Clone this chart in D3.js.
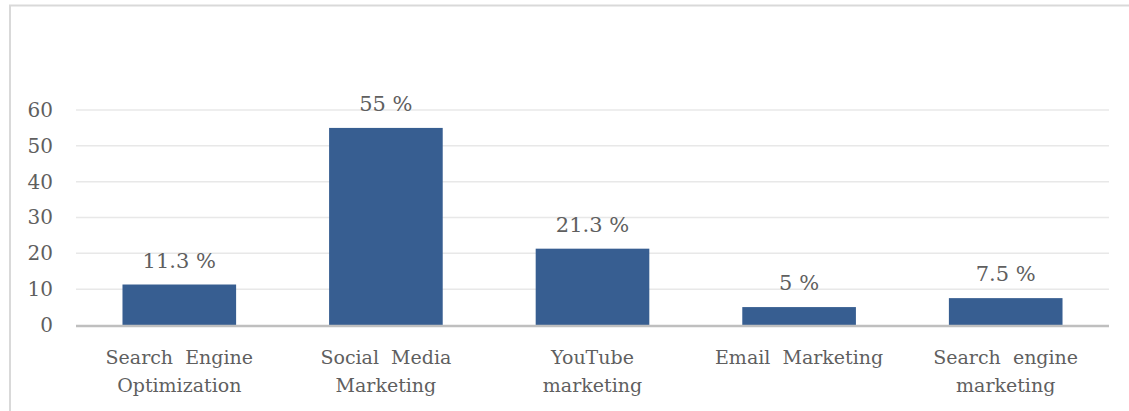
<!DOCTYPE html>
<html>
<head>
<meta charset="utf-8">
<script src="https://cdn.jsdelivr.net/npm/d3@7"></script>
<style>
  html, body { margin: 0; padding: 0; background: #fff; }
  svg { display: block; }
  text { font-family: "DejaVu Serif", serif; fill: #5f5f5f; }
</style>
</head>
<body>
<svg id="chart" width="1129" height="411"></svg>
<script>
// Marketing channel shares (percent)
const categories = [
  ["Search  Engine", "Optimization"],
  ["Social  Media", "Marketing"],
  ["YouTube", "marketing"],
  ["Email  Marketing"],
  ["Search  engine", "marketing"]
];
const values = [11.3, 55, 21.3, 5, 7.5];
const valueLabels = ["11.3 %", "55 %", "21.3 %", "5 %", "7.5 %"];
const yTicks = [0, 10, 20, 30, 40, 50, 60];

const svg = d3.select("#chart");
const W = 1129, H = 411;
const plot = { left: 76, right: 1109, top: 110, bottom: 325 };

// Chart frame
svg.append("path")
  .attr("d", `M10,${H} L10,5.5 L${W},5.5`)
  .attr("fill", "none")
  .attr("stroke", "#d9d9d9")
  .attr("stroke-width", 2);

const x = d3.scaleBand()
  .domain(d3.range(values.length))
  .range([plot.left, plot.right])
  .paddingInner(0.45)
  .paddingOuter(0.225);

const y = d3.scaleLinear()
  .domain([0, 60])
  .range([plot.bottom, plot.top]);

// Horizontal gridlines
svg.append("g")
  .selectAll("line")
  .data(yTicks.filter(d => d > 0))
  .join("line")
  .attr("x1", plot.left)
  .attr("x2", plot.right)
  .attr("y1", d => y(d))
  .attr("y2", d => y(d))
  .attr("stroke", "#e8e8e8")
  .attr("stroke-width", 1.5);

// Y axis labels
const yAxis = d3.axisLeft(y).tickValues(yTicks).tickSize(0).tickPadding(0);
const gy = svg.append("g").attr("transform", `translate(53,0)`).call(yAxis);
gy.select(".domain").remove();
gy.selectAll("text")
  .attr("font-size", 20)
  .attr("font-family", "DejaVu Serif, serif")
  .attr("fill", "#5f5f5f");

// Bars
svg.append("g")
  .selectAll("rect")
  .data(values)
  .join("rect")
  .attr("x", (d, i) => x(i))
  .attr("width", x.bandwidth())
  .attr("y", d => y(d))
  .attr("height", d => y(0) - y(d))
  .attr("fill", "#375e91");

// Baseline
svg.append("line")
  .attr("x1", plot.left)
  .attr("x2", plot.right)
  .attr("y1", y(0) + 1)
  .attr("y2", y(0) + 1)
  .attr("stroke", "#bfbfbf")
  .attr("stroke-width", 2.5);

// Value labels
svg.append("g")
  .selectAll("text")
  .data(values)
  .join("text")
  .attr("x", (d, i) => x(i) + x.bandwidth() / 2)
  .attr("y", d => y(d) - 17)
  .attr("text-anchor", "middle")
  .attr("font-size", 21)
  .text((d, i) => valueLabels[i]);

// Category labels
const cat = svg.append("g")
  .selectAll("text")
  .data(categories)
  .join("text")
  .attr("x", (d, i) => x(i) + x.bandwidth() / 2)
  .attr("y", 364)
  .attr("text-anchor", "middle")
  .attr("font-size", 19)
  .attr("xml:space", "preserve")
  .style("white-space", "pre");
cat.selectAll("tspan")
  .data(d => d)
  .join("tspan")
  .attr("x", function() { return this.parentNode.getAttribute("x"); })
  .attr("dy", (d, j) => j === 0 ? 0 : 28)
  .text(d => d);
</script>
</body>
</html>
